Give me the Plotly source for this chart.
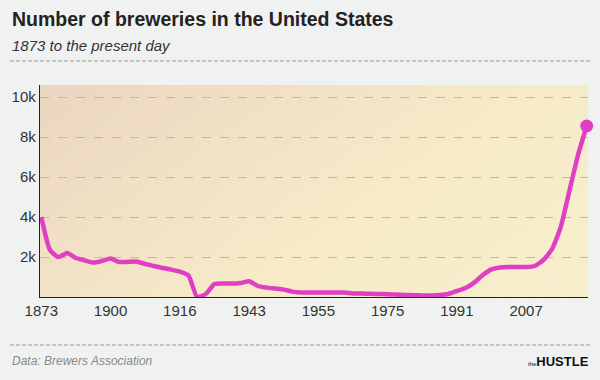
import base64
import plotly.graph_objects as go

# ---- data ----
years = ["1873", "1876", "1880", "1883", "1887", "1890", "1893", "1897", "1900",
         "1902", "1904", "1906", "1908", "1910", "1912", "1914", "1916",
         "1918", "1920", "1933", "1935", "1937", "1939", "1941", "1943",
         "1944", "1946", "1947", "1949", "1950", "1952", "1953", "1955",
         "1958", "1960", "1963", "1965", "1968", "1970", "1973", "1975",
         "1977", "1979", "1981", "1983", "1985", "1987", "1989", "1991",
         "1993", "1995", "1997", "1999", "2001", "2003", "2005", "2007",
         "2009", "2011", "2013", "2014", "2015", "2016", "2017"]
breweries = [4000, 2350, 2000, 2200, 1950, 1830, 1720, 1800, 1920,
             1750, 1760, 1770, 1650, 1550, 1450, 1370, 1270,
             1080, 0, 150, 650, 680, 670, 700, 790,
             550, 470, 420, 370, 270, 230, 220, 220,
             220, 220, 220, 180, 170, 160, 150, 140,
             120, 100, 90, 80, 80, 100, 150, 300,
             450, 720, 1100, 1380, 1480, 1500, 1500, 1500,
             1550, 1850, 2400, 3500, 5300, 7100, 8550]
tick_years = ["1873", "1900", "1916", "1943", "1955", "1975", "1991", "2007"]
y_ticks = [2000, 4000, 6000, 8000, 10000]
y_tick_text = ["2k", "4k", "6k", "8k", "10k"]

title = "Number of breweries in the United States"
subtitle = "1873 to the present day"
source = "Data: Brewers Association"

# ---- layout geometry ----
W, H = 600, 380
L, R, T, B = 40, 12, 85, 83
PW, PH = W - L - R, H - T - B


def px_x(px):
    return (px - L) / PW


def px_y(py):
    return (H - B - py) / PH


svg = (
    '<svg xmlns="http://www.w3.org/2000/svg" width="548" height="212" '
    'preserveAspectRatio="none">'
    '<defs><linearGradient id="g" x1="0" y1="0" x2="1" y2="0.55">'
    '<stop offset="0" stop-color="#ead5c1"/>'
    '<stop offset="0.35" stop-color="#f1e0c4"/>'
    '<stop offset="0.7" stop-color="#f6eac7"/>'
    '<stop offset="1" stop-color="#f7edcb"/>'
    '</linearGradient>'
    '<filter id="n"><feTurbulence type="fractalNoise" baseFrequency="0.9" numOctaves="2" seed="3"/>'
    '<feColorMatrix values="0 0 0 0 1  0 0 0 0 0.97  0 0 0 0 0.85  0 0 0 1.6 -0.9"/></filter>'
    '</defs>'
    '<rect width="548" height="212" fill="url(#g)"/>'
    '<rect width="548" height="212" filter="url(#n)" opacity="0.35"/>'
    '</svg>'
)
bg_src = "data:image/svg+xml;base64," + base64.b64encode(svg.encode()).decode()

LINE_COLOR = "#e03fc3"

fig = go.Figure()
fig.add_trace(go.Scatter(
    x=years, y=breweries, mode="lines",
    line=dict(color=LINE_COLOR, width=4.5, shape="spline", smoothing=0.5),
    hoverinfo="skip", showlegend=False,
))
fig.add_trace(go.Scatter(
    x=[years[-1]], y=[breweries[-1]], mode="markers",
    marker=dict(color=LINE_COLOR, size=13),
    hoverinfo="skip", showlegend=False, cliponaxis=False,
))

fig.update_layout(
    width=W, height=H,
    margin=dict(l=L, r=R, t=T, b=B),
    paper_bgcolor="#f0f1f1",
    plot_bgcolor="rgba(0,0,0,0)",
    hovermode=False,
    font=dict(family="Liberation Sans, Arial, sans-serif", color="#333333"),
    images=[dict(source=bg_src, xref="paper", yref="paper", x=0, y=1,
                 sizex=1, sizey=1, sizing="stretch", layer="below",
                 xanchor="left", yanchor="top")],
    xaxis=dict(
        type="category", categoryorder="array", categoryarray=years,
        range=[-0.15, len(years) - 1 + 0.15],
        tickvals=tick_years, ticktext=tick_years,
        tickfont=dict(size=15, color="#333333"),
        showgrid=False, zeroline=False, ticks="", ticklen=0,
        showline=True, linecolor="#222222", linewidth=1.2,
        fixedrange=True,
    ),
    yaxis=dict(
        range=[0, 10600],
        tickvals=y_ticks, ticktext=y_tick_text,
        tickfont=dict(size=15, color="#333333"),
        showgrid=True, gridcolor="#c9b796", gridwidth=1, griddash="dash",
        zeroline=False, ticks="", ticklen=0,
        showline=True, linecolor="#222222", linewidth=1.2,
        fixedrange=True,
    ),
    annotations=[
        dict(text="<b>" + title + "</b>", xref="paper", yref="paper",
             x=px_x(10), y=px_y(19), xanchor="left", yanchor="middle",
             showarrow=False, font=dict(size=19.5, color="#222222")),
        dict(text="<i>" + subtitle + "</i>", xref="paper", yref="paper",
             x=px_x(10), y=px_y(45), xanchor="left", yanchor="middle",
             showarrow=False, font=dict(size=15, color="#333333")),
        dict(text="<i>" + source + "</i>", xref="paper", yref="paper",
             x=px_x(10), y=px_y(361), xanchor="left", yanchor="middle",
             showarrow=False, font=dict(size=12, color="#8a8a8a")),
        dict(text="<span style='font-size:6px'>the</span><b>HUSTLE</b>",
             xref="paper", yref="paper",
             x=px_x(591), y=px_y(361), xanchor="right", yanchor="middle",
             showarrow=False,
             font=dict(size=13, color="#111111",
                       family="Liberation Sans Narrow, Arial Narrow, sans-serif")),
    ],
    shapes=[
        dict(type="line", xref="paper", yref="paper",
             x0=px_x(10), x1=px_x(590), y0=px_y(61), y1=px_y(61),
             line=dict(color="#9a9a9a", width=1, dash="4px,2px")),
        dict(type="line", xref="paper", yref="paper",
             x0=px_x(10), x1=px_x(590), y0=px_y(345), y1=px_y(345),
             line=dict(color="#9a9a9a", width=1, dash="4px,2px")),
    ],
)

fig.write_html(
    "out.html",
    config={"displayModeBar": False, "staticPlot": True},
    post_script="document.body.style.margin='0';document.body.style.background='#f0f1f1';",
)
